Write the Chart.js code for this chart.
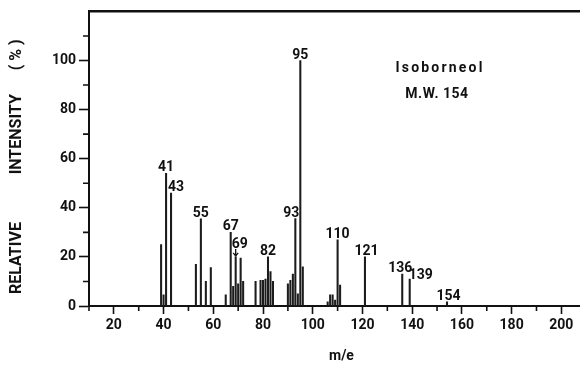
<!DOCTYPE html>
<html><head><meta charset="utf-8">
<script src="https://cdn.jsdelivr.net/npm/chart.js@4.4.1/dist/chart.umd.min.js"></script>
<style>html,body{margin:0;padding:0;background:#fff;}</style>
</head><body>
<canvas id="c" width="580" height="368"></canvas>
<script>
// ---- data ----
const massToCharge      = [39, 40, 41, 43, 53, 55, 57, 59, 65, 67, 68, 69, 70, 71, 72, 77, 79, 80, 81, 82, 83, 84, 90, 91, 92, 93, 94, 95, 96, 106, 107, 108, 109, 110, 111, 121, 136, 139, 154];
const relativeIntensity = [25, 4.5, 54, 46, 17, 35.5, 10, 15.6, 4.5, 30, 8, 20, 9, 19.5, 10, 10, 10.5, 10.5, 11, 20, 14, 10, 9, 10.5, 13, 35.6, 5, 100, 16, 1.7, 4.6, 4.6, 2.4, 27, 8.5, 20, 13, 11, 1.7];
const labelledPeaks = [41, 43, 55, 67, 69, 82, 93, 95, 110, 121, 136, 139, 154];
const xTickLabels = [20, 40, 60, 80, 100, 120, 140, 160, 180, 200];
const yTickLabels = [0, 20, 40, 60, 80, 100];
const xMinorTicks = [10, 30, 50, 70, 90, 110, 130, 150, 170, 190];
const yMinorTicks = [10, 30, 50, 70, 90, 110];
const compoundName = 'Isoborneol';
const molecularWeight = 'M.W. 154';

// ---- label placement (style) ----
const labelShift = {43: 5, 69: 4, 93: -4, 121: 1.5, 136: -2, 139: 11, 154: 1.5};
const labelGap = {69: 9, 139: 0};
const INK = '#111';
const FONT = 'Roboto, "DejaVu Sans", sans-serif';

const points = massToCharge.map((m, i) => ({x: m, y: relativeIntensity[i]}));

const decorations = {
  id: 'decorations',
  afterDraw(chart) {
    const {ctx, chartArea: a} = chart;
    const xs = chart.scales.x, ys = chart.scales.y;
    ctx.save();
    // minor ticks
    ctx.strokeStyle = INK; ctx.lineWidth = 1.6;
    ctx.beginPath();
    xMinorTicks.forEach(v => { const px = xs.getPixelForValue(v); ctx.moveTo(px, a.bottom); ctx.lineTo(px, a.bottom + 5); });
    yMinorTicks.forEach(v => { const py = ys.getPixelForValue(v); ctx.moveTo(a.left - 6, py); ctx.lineTo(a.left, py); });
    ctx.stroke();
    // peak labels
    ctx.fillStyle = INK;
    ctx.font = 'bold 14px ' + FONT;
    ctx.textAlign = 'center';
    ctx.textBaseline = 'alphabetic';
    labelledPeaks.forEach(m => {
      const i = massToCharge.indexOf(m);
      const px = xs.getPixelForValue(m);
      const py = ys.getPixelForValue(relativeIntensity[i]);
      const gap = labelGap[m] !== undefined ? labelGap[m] : 2;
      ctx.fillText(String(m), px + (labelShift[m] || 0), py - gap);
      if (m === 69) {
        ctx.beginPath();
        ctx.lineWidth = 1.3;
        ctx.moveTo(px, py - gap + 1); ctx.lineTo(px, py - 1);
        ctx.moveTo(px - 2.5, py - 4); ctx.lineTo(px, py - 1); ctx.lineTo(px + 2.5, py - 4);
        ctx.stroke();
      }
    });
    // compound title
    const cx = a.left + 351;
    ctx.font = 'bold 14px ' + FONT;
    if ('letterSpacing' in ctx) ctx.letterSpacing = '2.2px';
    ctx.fillText(compoundName, cx, a.top + 61);
    if ('letterSpacing' in ctx) ctx.letterSpacing = '0.5px';
    ctx.fillText(molecularWeight, cx - 3, a.top + 87);
    ctx.restore();
  }
};

new Chart(document.getElementById('c'), {
  type: 'bar',
  data: {datasets: [{data: points, backgroundColor: '#1c1c1c', borderWidth: 0, barThickness: 1.4}]},
  options: {
    responsive: false, animation: false, devicePixelRatio: 1,
    layout: {padding: {top: 10, left: 0, right: 0, bottom: 0}},
    plugins: {legend: {display: false}, tooltip: {enabled: false}},
    scales: {
      x: {
        type: 'linear', position: 'bottom', min: 10, max: 207.5, offset: false,
        grid: {offset: false, drawOnChartArea: false, drawTicks: true, tickLength: 8, tickWidth: 1.6, tickColor: INK},
        border: {display: true, color: INK, width: 2},
        ticks: {stepSize: 20, includeBounds: false, autoSkip: false, maxRotation: 0, padding: 3, color: INK,
                font: {family: FONT, size: 14, weight: 'bold'},
                callback: v => xTickLabels.includes(v) ? String(v) : null},
        title: {display: true, text: '    m/e', color: INK, font: {family: FONT, size: 14, weight: 'bold'}, padding: {top: 0, bottom: 3}},
        afterFit: s => { s.height = 62; }
      },
      x2: {
        type: 'linear', position: 'top', min: 10, max: 207.5, offset: false,
        grid: {display: false, offset: false}, ticks: {display: false},
        border: {display: true, color: INK, width: 2.5},
        afterFit: s => { s.height = 0; }
      },
      y: {
        type: 'linear', position: 'left', min: 0, max: 120,
        grid: {drawOnChartArea: false, drawTicks: true, tickLength: 10, tickWidth: 1.6, tickColor: INK},
        border: {display: true, color: INK, width: 2},
        ticks: {stepSize: 20, padding: 3, color: INK, font: {family: FONT, size: 14, weight: 'bold'},
                callback: v => yTickLabels.includes(v) ? String(v) : null},
        title: {display: true, text: 'RELATIVE            INTENSITY      ( % )    ', color: INK,
                font: {family: FONT, size: 16, weight: 'bold'}, padding: {top: 7.5, bottom: 0}},
        afterFit: s => { s.width = 89; }
      }
    }
  },
  plugins: [decorations]
});
</script>
</body></html>
